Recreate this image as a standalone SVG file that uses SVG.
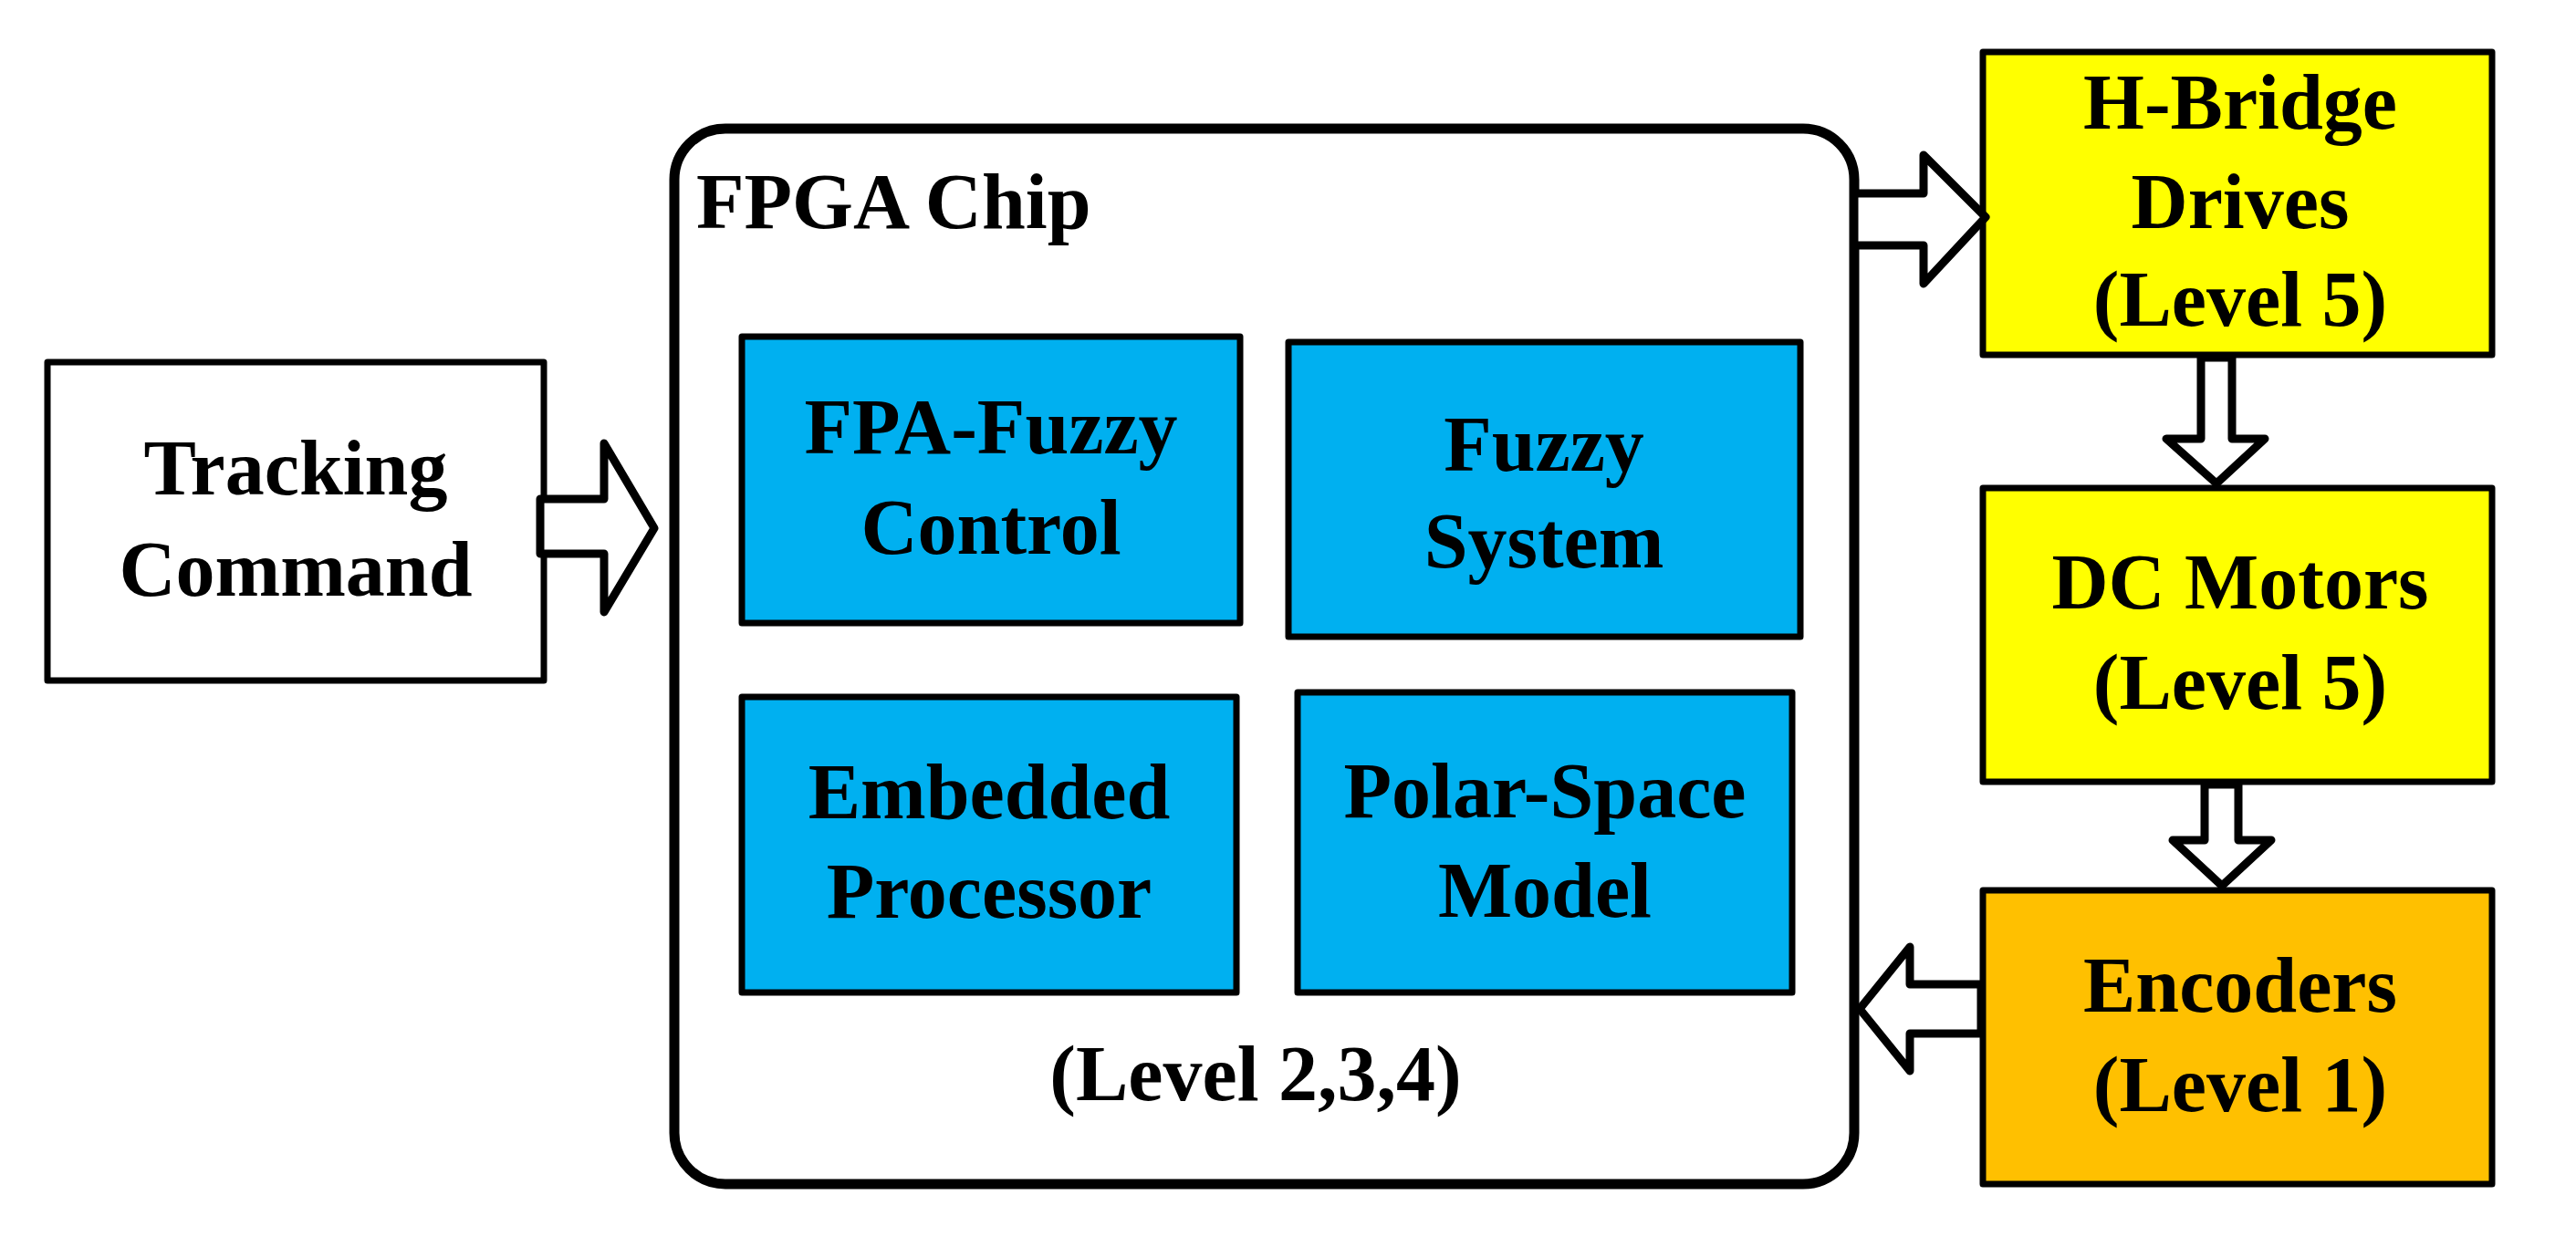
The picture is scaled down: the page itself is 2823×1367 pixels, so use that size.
<svg xmlns="http://www.w3.org/2000/svg" width="2823" height="1367" viewBox="0 0 2823 1367">
<style>
.b{stroke:#000;stroke-width:7;stroke-linejoin:round}
.t{font-family:"Liberation Serif",serif;font-weight:bold;font-size:86px;text-anchor:middle;fill:#000}
.a{fill:#fff;stroke:#000;stroke-width:9;stroke-linejoin:round}
</style>
<rect width="2823" height="1367" fill="#fff"/>
<g id="tracking"><rect class="b" x="52" y="397" width="544" height="349" fill="#fff"/>
<text class="t" x="324" y="542">Tracking</text><text class="t" x="324" y="653">Command</text></g>
<g id="fpga"><rect x="739" y="141" width="1293" height="1157" rx="56" fill="#fff" stroke="#000" stroke-width="11"/>
<text class="t" x="763" y="250" style="text-anchor:start">FPGA Chip</text>
<text class="t" x="1376" y="1206">(Level 2,3,4)</text></g>
<g id="fpa"><rect class="b" x="813" y="369" width="546" height="314" fill="#00B0F0"/>
<text class="t" x="1086" y="497">FPA-Fuzzy</text><text class="t" x="1086" y="607">Control</text></g>
<g id="fuzzy"><rect class="b" x="1412" y="375" width="561" height="323" fill="#00B0F0"/>
<text class="t" x="1692" y="516">Fuzzy</text><text class="t" x="1692" y="622">System</text></g>
<g id="embedded"><rect class="b" x="813" y="764" width="542" height="324" fill="#00B0F0"/>
<text class="t" x="1084" y="897">Embedded</text><text class="t" x="1084" y="1006">Processor</text></g>
<g id="polar"><rect class="b" x="1422" y="759" width="542" height="329" fill="#00B0F0"/>
<text class="t" x="1693" y="896">Polar-Space</text><text class="t" x="1693" y="1005">Model</text></g>
<g id="hbridge"><rect class="b" x="2173" y="57" width="558" height="332" fill="#FFFF00"/>
<text class="t" x="2455" y="141">H-Bridge</text><text class="t" x="2455" y="250">Drives</text><text class="t" x="2455" y="357">(Level 5)</text></g>
<g id="dcmotors"><rect class="b" x="2173" y="535" width="558" height="322" fill="#FFFF00"/>
<text class="t" x="2455" y="667">DC Motors</text><text class="t" x="2455" y="777">(Level 5)</text></g>
<g id="encoders"><rect class="b" x="2173" y="976" width="558" height="322" fill="#FFC000"/>
<text class="t" x="2455" y="1109">Encoders</text><text class="t" x="2455" y="1218">(Level 1)</text></g>
<g id="connectors">
<path class="a" d="M592,547 H662 V486 L717,579 L662,671 V607 H592 Z"/>
<path class="a" d="M2032,212 H2108 V170 L2176,238 L2108,311 V269 H2032 Z"/>
<path class="a" d="M2412,392 H2446 V481 H2482 L2429,530 L2374,481 H2412 Z"/>
<path class="a" d="M2416,860 H2453 V921 H2489 L2435,971 L2381,921 H2416 Z"/>
<path class="a" d="M2171,1079 H2093 V1038 L2038,1106 L2093,1174 V1133 H2171 Z"/>
</g>
</svg>
